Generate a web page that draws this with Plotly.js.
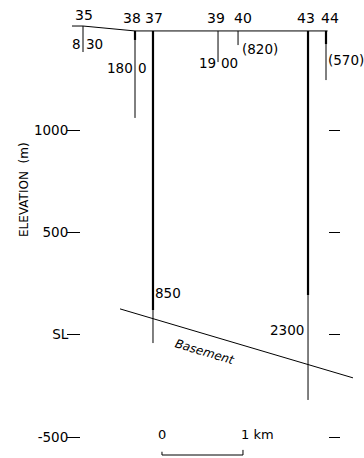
<!DOCTYPE html>
<html><head><meta charset="utf-8">
<script src="https://cdn.plot.ly/plotly-3.0.1.min.js"></script>
<style>html,body{margin:0;padding:0;background:#fff}#chart{width:364px;height:458px}</style>
</head><body><div id="chart"></div>
<script>
// ---- data (x in km from well 35, elevation in m) ----
const wellIds     = ['35', '38', '37', '39', '40', '43', '44'];
const wellX       = [0, 0.642, 0.864, 1.667, 1.914, 2.778, 3.0];
const wellTop     = [1508, 1484, 1484, 1484, 1484, 1484, 1484];
const wellBottom  = [1381, 1059, -41, 1332, 1415, -319, 1244];
const thickBottom = [null, 1440, 121, null, null, 194, 1420];
const depthValue  = [830, 1800, 850, 1900, 820, 2300, 570];
const inferred    = [false, false, false, false, true, false, true];
const surfaceX    = [-0.136, 0, 0.642, 3.02];
const surfaceElev = [1508, 1508, 1484, 1484];
const basementX   = [0.457, 3.333];
const basementElev= [126, -211];
const tickVals    = [1000, 500, 0, -500];
const tickText    = ['1000', '500', 'SL', '-500'];
const scaleKm     = [0, 1];

// ---- drawing ----
const FONT = 'DejaVu Sans';
const BLACK = '#000';
const yRange = [-602.6, 1635.2];
const traces = [];

traces.push({x: surfaceX, y: surfaceElev, mode: 'lines', line: {color: BLACK, width: 1}, hoverinfo: 'skip'});
traces.push({x: basementX, y: basementElev, mode: 'lines', line: {color: BLACK, width: 1}, hoverinfo: 'skip'});

const wx = [], wy = [], tx = [], ty = [];
wellIds.forEach((id, i) => {
  wx.push(wellX[i], wellX[i], null); wy.push(wellTop[i], wellBottom[i], null);
  if (thickBottom[i] !== null) { tx.push(wellX[i], wellX[i], null); ty.push(wellTop[i], thickBottom[i], null); }
});
traces.push({x: wx, y: wy, mode: 'lines', line: {color: BLACK, width: 1}, hoverinfo: 'skip'});
traces.push({x: tx, y: ty, mode: 'lines', line: {color: BLACK, width: 2.2}, hoverinfo: 'skip'});

// scale bar
const sOrigin = 0.975;
traces.push({x: [sOrigin + scaleKm[0], sOrigin + scaleKm[0], sOrigin + scaleKm[1], sOrigin + scaleKm[1]],
             y: [-572, -588, -588, -563], mode: 'lines', line: {color: BLACK, width: 1}, hoverinfo: 'skip'});
// invisible trace for right axis
traces.push({x: [0], y: [0], yaxis: 'y2', mode: 'markers', marker: {opacity: 0}, hoverinfo: 'skip'});

const ann = [];
const numShift = [1, -3, 1, -2, 5, -2, 4];
wellIds.forEach((id, i) => {
  ann.push({x: wellX[i], y: i === 0 ? 1562 : 1547, xref: 'x', yref: 'y', text: id, showarrow: false,
            xshift: numShift[i], borderpad: 0, font: {family: FONT, size: 14, color: BLACK}});
});
// depth labels: [split index (chars left of line), elevation, gap px]
const depthPlace = [[1, 1420, 1.5], [3, 1303, 1.5], [0, 204, 1], [2, 1327, 1.5], [0, 1396, 3], [4, 23, 3], [0, 1342, 1]];
depthValue.forEach((v, i) => {
  const s = inferred[i] ? '(' + v + ')' : String(v);
  const [k, ye, gap] = depthPlace[i];
  const left = s.slice(0, k), right = s.slice(k);
  const f = {family: FONT, size: 13.5, color: BLACK};
  if (left) ann.push({x: wellX[i], y: ye, xref: 'x', yref: 'y', text: left, showarrow: false, xanchor: 'right', xshift: -gap, borderpad: 0, font: f});
  if (right) ann.push({x: wellX[i], y: ye, xref: 'x', yref: 'y', text: right, showarrow: false, xanchor: 'left', xshift: gap, borderpad: 0, font: f});
});
ann.push({x: 1.506, y: -85, xref: 'x', yref: 'y', text: 'Basement', showarrow: false, textangle: 16.5,
          font: {family: FONT, size: 12, color: BLACK, style: 'italic'}});
ann.push({x: 15 / 364, y: 707, xref: 'paper', yref: 'y', text: 'ELEVATION  (m)', showarrow: false, textangle: -90,
          font: {family: FONT, size: 12, color: BLACK}});
ann.push({x: sOrigin + scaleKm[0], y: -490, xref: 'x', yref: 'y', text: String(scaleKm[0]), showarrow: false, font: {family: FONT, size: 13, color: BLACK}});
ann.push({x: sOrigin + scaleKm[1], y: -490, xref: 'x', yref: 'y', text: scaleKm[1] + ' km', showarrow: false, xanchor: 'left', xshift: -4, font: {family: FONT, size: 13, color: BLACK}});

const yCommon = {range: yRange, tickvals: tickVals, ticks: 'outside', tickcolor: BLACK, tickwidth: 1,
  showline: false, showgrid: false, zeroline: false, automargin: false, fixedrange: true, anchor: 'free'};
const layout = {
  width: 364, height: 458, margin: {l: 0, r: 0, t: 0, b: 0},
  paper_bgcolor: '#fff', plot_bgcolor: '#fff', showlegend: false,
  xaxis: {range: [-1.0247, 3.4691], visible: false, fixedrange: true},
  yaxis: Object.assign({}, yCommon, {position: 80 / 364, side: 'left', ticktext: tickText, ticklen: 13,
    ticklabelstandoff: -4, tickfont: {family: FONT, size: 13.5, color: BLACK}}),
  yaxis2: Object.assign({}, yCommon, {overlaying: 'y', position: 328 / 364, side: 'right', ticklen: 11, showticklabels: false}),
  annotations: ann
};
Plotly.newPlot('chart', traces, layout, {staticPlot: true, displayModeBar: false});
</script></body></html>
